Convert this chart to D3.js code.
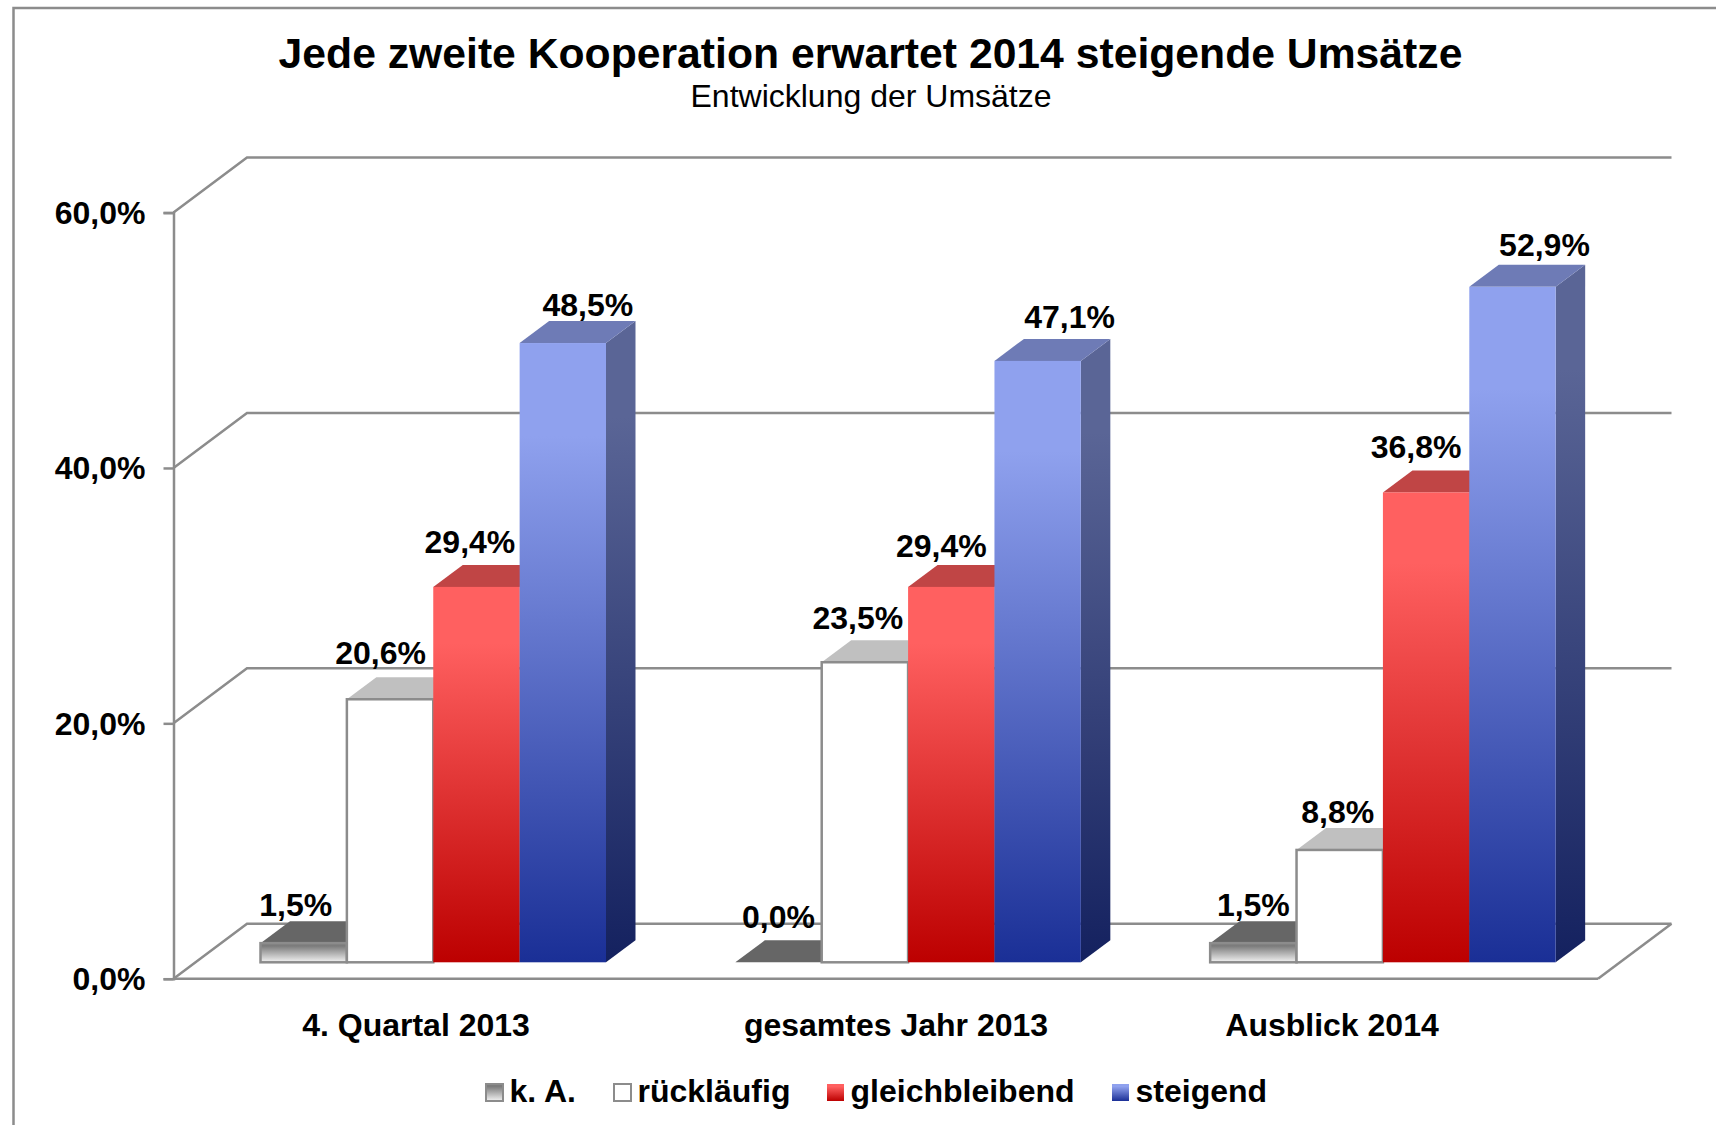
<!DOCTYPE html>
<html>
<head>
<meta charset="utf-8">
<title>Jede zweite Kooperation erwartet 2014 steigende Umsätze</title>
<script src="https://cdn.jsdelivr.net/npm/d3@7"></script>
<style>
	html, body { margin: 0; padding: 0; background: #fff; }
	svg { display: block; font-family: "Liberation Sans", Arial, sans-serif; }
	.bold { font-weight: bold; fill: #000; font-size: 32px; }
	.axis text { font-weight: bold; fill: #000; font-size: 32px; font-family: "Liberation Sans", Arial, sans-serif; }
	.axis path, .axis line, .wall { stroke: #8c8c8c; stroke-width: 2.5; fill: none; }
</style>
</head>
<body>
<div id="chart"></div>
<script>

	/* ---------------------------------
		Data
	------------------------------------*/

	var title = "Jede zweite Kooperation erwartet 2014 steigende Umsätze";
	var subtitle = "Entwicklung der Umsätze";

	var categories = ["4. Quartal 2013", "gesamtes Jahr 2013", "Ausblick 2014"];
	var seriesNames = ["k. A.", "rückläufig", "gleichbleibend", "steigend"];

	var kaValues = [1.5, 0.0, 1.5];
	var ruecklaeufigValues = [20.6, 23.5, 8.8];
	var gleichValues = [29.4, 29.4, 36.8];
	var steigendValues = [48.5, 47.1, 52.9];

	var yTicks = [0, 20, 40, 60];


	/* ---------------------------------
		Layout
	------------------------------------*/

	var w = 1716;
	var h = 1125;

	// front plane of the 3d box
	var plotLeft = 173.5, plotRight = 1598, plotBottom = 978.7, plotTop = 212.6;
	// shift of the back wall, of the bar depth, and of the bars from the front edge
	var wallDx = 73.5, wallDy = -55;
	var barDx = 29.5, barDy = -22;
	var floorLift = 16.4;

	// labels were dragged around by hand in the original
	var labelDx = [[-8, -9.5, -6.5, 25], [0, -7, -10, 32], [0, -2, -10, 32]];
	var labelDy = [[-5, -13, -12, -5], [-12.5, -11, -8, -11], [-5, -5, -12.5, -9]];
	var catLabelX = [416, 896, 1332];

	var legendX = [486, 614, 827, 1112];

	var styles = [
		{ front: "gradKa", side: "#555", top: "#666666", stroke: "#8c8c8c" },
		{ front: "#ffffff", side: "#aaa", top: "#c0c0c0", stroke: "#8c8c8c" },
		{ front: "gradRed", side: "gradRedSide", top: "#c04545", stroke: "none" },
		{ front: "gradBlue", side: "gradBlueSide", top: "#6e7bb6", stroke: "none" }
	];

	var gradients = [
		{ id: "gradKa", from: "#7c7c7c", to: "#f2f2f2" },
		{ id: "gradRed", from: "#ff6060", to: "#bc0000" },
		{ id: "gradRedSide", from: "#a04040", to: "#700000" },
		{ id: "gradBlue", from: "#8fa1ee", to: "#1a2f96" },
		{ id: "gradBlueSide", from: "#5a6596", to: "#14215f" }
	];


	/* ---------------------------------
		Scales
	------------------------------------*/

	var xScale = d3.scaleBand()
		.domain(categories)
		.range([plotLeft, plotRight]);

	// bars inside one category
	var x1Scale = d3.scaleBand()
		.domain(seriesNames)
		.range([87, 432.5]);

	var yScale = d3.scaleLinear()
		.domain([0, 60])
		.range([plotBottom, plotTop]);

	var allValues = [kaValues, ruecklaeufigValues, gleichValues, steigendValues];


	/* ---------------------------------
		Draw the SVG
	------------------------------------*/

	var svg = d3.select("#chart")
		.append("svg")
		.attr("width", w)
		.attr("height", h);

	var defs = svg.append("defs");

	gradients.forEach(function(g) {
		var lg = defs.append("linearGradient")
			.attr("id", g.id)
			.attr("x1", 0).attr("y1", 0)
			.attr("x2", 0).attr("y2", 1);
		lg.append("stop").attr("offset", "15%").attr("stop-color", g.from);
		lg.append("stop").attr("offset", "100%").attr("stop-color", g.to);
	});

	function paint(c) {
		return c.indexOf("grad") === 0 ? "url(#" + c + ")" : c;
	}

	function poly(points) {
		return "M" + points.map(function(p) { return p.join(","); }).join("L") + "Z";
	}

	// outer frame: only top and left are inside the picture
	svg.append("path")
		.attr("d", "M13.5," + h + "V8H" + w)
		.attr("fill", "none")
		.attr("stroke", "#8c8c8c")
		.attr("stroke-width", 2.5);

	// titles
	svg.append("text")
		.attr("x", 870.5)
		.attr("y", 68)
		.attr("text-anchor", "middle")
		.attr("font-size", 42.7)
		.attr("font-weight", "bold")
		.text(title);

	svg.append("text")
		.attr("x", 871)
		.attr("y", 107)
		.attr("text-anchor", "middle")
		.attr("font-size", 32)
		.text(subtitle);

	// back wall lines and side diagonals
	yTicks.forEach(function(t) {
		svg.append("path")
			.attr("class", "wall")
			.attr("d", "M" + plotLeft + "," + yScale(t) +
				"L" + (plotLeft + wallDx) + "," + (yScale(t) + wallDy) +
				"H" + (plotRight + wallDx));
	});

	// floor edge on the right
	svg.append("path")
		.attr("class", "wall")
		.attr("d", "M" + plotRight + "," + plotBottom + "L" + (plotRight + wallDx) + "," + (plotBottom + wallDy));

	// front floor line
	svg.append("line")
		.attr("class", "wall")
		.attr("x1", plotLeft).attr("x2", plotRight)
		.attr("y1", plotBottom).attr("y2", plotBottom);

	// y axis
	var yAxis = d3.axisLeft(yScale)
		.tickValues(yTicks)
		.tickSize(10)
		.tickPadding(18)
		.tickFormat(function(d) { return d.toFixed(1).replace(".", ",") + "%"; });

	svg.append("g")
		.attr("class", "axis")
		.attr("transform", "translate(" + plotLeft + ",0)")
		.call(yAxis)
		.selectAll("text")
		.attr("dy", "0.34em");

	// bars
	categories.forEach(function(cat, c) {
		seriesNames.forEach(function(name, s) {
			var v = allValues[s][c];
			var st = styles[s];
			var x0 = xScale(cat) + x1Scale(name);
			var x1 = x0 + x1Scale.bandwidth();
			var y0 = yScale(0) - floorLift;
			var yt = yScale(v) - floorLift;

			var g = svg.append("g").attr("class", "bar");

			g.append("path")
				.attr("d", poly([[x1, yt], [x1 + barDx, yt + barDy], [x1 + barDx, y0 + barDy], [x1, y0]]))
				.attr("fill", paint(st.side));

			g.append("path")
				.attr("d", poly([[x0, yt], [x0 + barDx, yt + barDy], [x1 + barDx, yt + barDy], [x1, yt]]))
				.attr("fill", paint(st.top));

			g.append("rect")
				.attr("x", x0)
				.attr("y", yt)
				.attr("width", x1 - x0)
				.attr("height", y0 - yt)
				.attr("fill", paint(st.front))
				.attr("stroke", st.stroke)
				.attr("stroke-width", 2.5);
		});
	});

	// value labels go on top of all bars
	categories.forEach(function(cat, c) {
		seriesNames.forEach(function(name, s) {
			var v = allValues[s][c];
			svg.append("text")
				.attr("class", "bold")
				.attr("text-anchor", "middle")
				.attr("x", xScale(cat) + x1Scale(name) + x1Scale.bandwidth() / 2 + labelDx[c][s])
				.attr("y", yScale(v) - floorLift + barDy + labelDy[c][s])
				.text(v.toFixed(1).replace(".", ",") + "%");
		});
	});

	// category labels
	svg.selectAll(".cat")
		.data(categories)
		.enter()
		.append("text")
		.attr("class", "bold cat")
		.attr("text-anchor", "middle")
		.attr("x", function(d, i) { return catLabelX[i]; })
		.attr("y", 1036)
		.text(function(d) { return d; });

	// legend
	seriesNames.forEach(function(name, s) {
		var st = styles[s];
		svg.append("rect")
			.attr("x", legendX[s])
			.attr("y", 1084)
			.attr("width", 17)
			.attr("height", 17)
			.attr("fill", paint(st.front))
			.attr("stroke", st.stroke)
			.attr("stroke-width", 2);

		svg.append("text")
			.attr("class", "bold")
			.attr("x", legendX[s] + 23.5)
			.attr("y", 1102)
			.text(name);
	});

</script>
</body>
</html>
